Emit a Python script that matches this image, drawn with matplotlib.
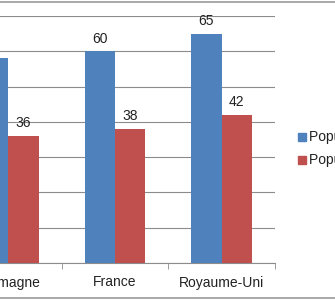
import matplotlib
matplotlib.use("Agg")
import matplotlib.pyplot as plt
import numpy as np
from matplotlib.lines import Line2D
from matplotlib.patches import Rectangle

categories = ["Allemagne", "France", "Royaume-Uni"]
series_names = ["Population totale", "Population active"]
totale = [58, 60, 65]
active = [36, 38, 42]
colors = ["#4F81BD", "#C0504D"]

W, H = 335, 300
fig = plt.figure(figsize=(W / 100, H / 100), dpi=100)
plt.rcParams["font.family"] = ["Liberation Sans", "DejaVu Sans"]

# plot area is cropped on the left, as in the reference
ax = fig.add_axes([-45 / W, 37 / H, 320 / W, 247 / H])
x = np.arange(len(categories))
bw = 0.285
b1 = ax.bar(x - bw / 2, totale, bw, color=colors[0], zorder=3)
b2 = ax.bar(x + bw / 2, active, bw, color=colors[1], zorder=3)
for bars in (b1, b2):
    for r in bars:
        ax.annotate(f"{r.get_height():g}", (r.get_x() + r.get_width() / 2, r.get_height()),
                    xytext=(0, 4), textcoords="offset points", ha="center", va="bottom",
                    fontsize=10, color="#222222")

ax.set_xlim(-0.5, len(categories) - 0.5)
ax.set_ylim(0, 70)
ax.set_yticks(range(0, 71, 10))
ax.yaxis.grid(True, color="#8c8c8c", linewidth=0.8, zorder=0)
ax.tick_params(axis="y", left=False, labelleft=False)
ax.set_xticks(x)
ax.set_xticklabels(categories, fontsize=10, color="#222222")
ax.set_xticks(np.arange(-0.5, len(categories)), minor=True)
ax.tick_params(axis="x", which="major", length=0, pad=9)
ax.tick_params(axis="x", which="minor", length=4, color="#8c8c8c", direction="out")
for s in ("top", "right", "left"):
    ax.spines[s].set_visible(False)
ax.spines["bottom"].set_color("#8c8c8c")

# legend, cut at the right edge
for i, (name, c) in enumerate(zip(series_names, colors)):
    yc = 1 - (137 + 23 * i) / H
    fig.add_artist(Rectangle((298 / W, yc - 4 / H), 8 / W, 8 / H, color=c, transform=fig.transFigure))
    fig.text(309 / W, yc, name, fontsize=10, va="center", ha="left", color="#222222")

# chart area border
for yy in (2, 297.5):
    fig.add_artist(Line2D([0, 1], [1 - yy / H] * 2, color="#9a9a9a", linewidth=1.2,
                          transform=fig.transFigure))

fig.savefig("out.png", dpi=100)
